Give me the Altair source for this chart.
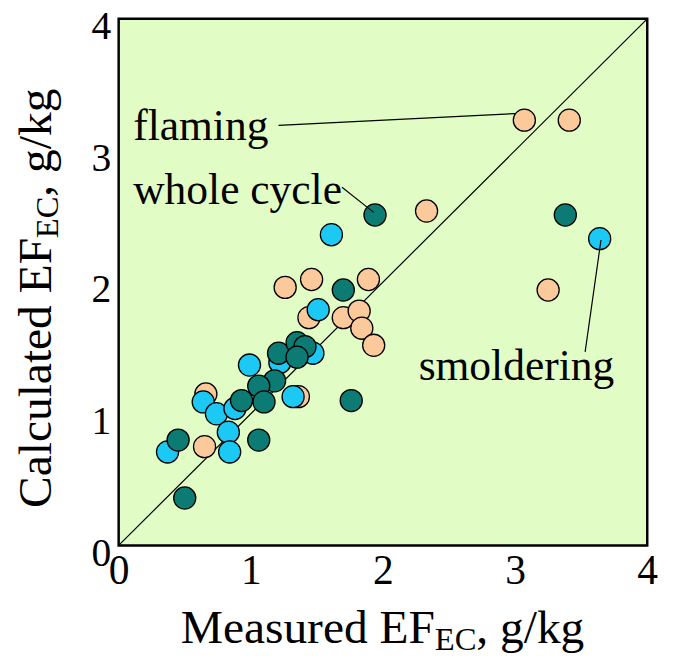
import altair as alt
import pandas as pd

# ---- data ----
flaming_x = [3.07, 3.41, 2.33, 3.25, 1.26, 1.46, 1.89, 1.44, 1.70, 1.82, 1.84, 1.93, 0.66, 1.36, 0.65]
flaming_y = [3.23, 3.23, 2.54, 1.94, 1.96, 2.02, 2.02, 1.73, 1.73, 1.78, 1.65, 1.52, 1.15, 1.13, 0.75]
smold_x = [1.61, 3.64, 1.51, 0.99, 1.22, 1.47, 1.32, 0.64, 0.74, 0.88, 0.83, 0.84, 0.37]
smold_y = [2.36, 2.33, 1.79, 1.37, 1.39, 1.46, 1.13, 1.09, 1.00, 1.04, 0.86, 0.71, 0.71]
whole_x = [1.94, 3.38, 1.70, 1.21, 1.35, 1.41, 1.35, 1.18, 1.06, 0.93, 1.10, 1.76, 0.45, 1.06, 0.50]
whole_y = [2.51, 2.51, 1.94, 1.46, 1.54, 1.51, 1.43, 1.25, 1.21, 1.10, 1.09, 1.10, 0.80, 0.80, 0.36]

groups = ["flaming", "smoldering", "whole cycle"]
group_colors = ["#FCC99B", "#1CC8F4", "#0B7B73"]
ticks = [0, 1, 2, 3, 4]

# annotation labels and leader lines (data coordinates)
label_text = ["flaming", "whole cycle", "smoldering"]
label_x = [0.11, 0.11, 2.27]
label_y = [3.08, 2.59, 1.26]
lead_x1 = [1.21, 1.69, 3.53]
lead_y1 = [3.19, 2.72, 1.47]
lead_x2 = [3.0, 1.93, 3.65]
lead_y2 = [3.28, 2.53, 2.32]

FONT = "Liberation Serif"

rows = []
for g, xs, ys in [("flaming", flaming_x, flaming_y),
                  ("smoldering", smold_x, smold_y),
                  ("whole cycle", whole_x, whole_y)]:
    for a, b in zip(xs, ys):
        rows.append({"group": g, "measured": a, "calculated": b,
                     "order": groups.index(g)})
pts = pd.DataFrame(rows)

xs = alt.Scale(domain=[0, 4], nice=False, zero=False)
ys = alt.Scale(domain=[0, 4], nice=False, zero=False)

x_axis = alt.Axis(values=ticks, format="d", title=None, grid=False, ticks=False,
                  domain=False, labelFont=FONT, labelFontSize=42, labelColor="black",
                  labelPadding=6, labelFlush=False)
y_axis = alt.Axis(values=ticks, format="d", title=None, grid=False, ticks=False,
                  domain=False, labelFont=FONT, labelFontSize=40, labelColor="black",
                  labelPadding=8, labelFlush=False, labelOffset=8)

diag = alt.Chart(pd.DataFrame({"a": [0], "b": [0], "a2": [4], "b2": [4]})).mark_rule(
    color="black", strokeWidth=1.2
).encode(
    x=alt.X("a:Q", scale=xs, axis=x_axis),
    y=alt.Y("b:Q", scale=ys, axis=y_axis),
    x2="a2:Q", y2="b2:Q",
)

points = alt.Chart(pts).mark_circle(size=500, opacity=1, stroke="black",
                                    strokeWidth=1.3).encode(
    x=alt.X("measured:Q", scale=xs),
    y=alt.Y("calculated:Q", scale=ys),
    color=alt.Color("group:N", scale=alt.Scale(domain=groups, range=group_colors),
                    legend=None),
    order=alt.Order("order:Q"),
)

leaders = alt.Chart(pd.DataFrame({"x1": lead_x1, "y1": lead_y1,
                                  "x2": lead_x2, "y2": lead_y2})).mark_rule(
    color="black", strokeWidth=1.2
).encode(
    x=alt.X("x1:Q", scale=xs), y=alt.Y("y1:Q", scale=ys), x2="x2:Q", y2="y2:Q"
)

labels = alt.Chart(pd.DataFrame({"t": label_text, "x": label_x, "y": label_y})).mark_text(
    font=FONT, fontSize=44, align="left", baseline="alphabetic", color="black"
).encode(
    x=alt.X("x:Q", scale=xs), y=alt.Y("y:Q", scale=ys), text="t:N"
)

def txt(s, x, y, size, angle=0):
    return alt.Chart(pd.DataFrame({"t": [s]})).mark_text(
        font=FONT, fontSize=size, align="left", baseline="alphabetic",
        color="black", angle=angle
    ).encode(x=alt.value(x), y=alt.value(y), text="t:N")

# x-axis title: Measured EF_EC, g/kg
xt1 = alt.Chart(pd.DataFrame({"t": ["Measured EF"]})).mark_text(
    font=FONT, fontSize=48, align="right", baseline="alphabetic", color="black"
).encode(x=alt.value(320), y=alt.value(632), text="t:N")
xt2 = txt("EC", 320, 639, 33)
xt3 = txt(", g/kg", 362, 632, 48)

# y-axis title (rotated)
yt1 = txt("Calculated EF", -68, 495, 48, angle=270)
yt2 = txt("EC", -61, 495 - 273, 33, angle=270)
yt3 = txt(", g/kg", -68, 495 - 273 - 42, 48, angle=270)

chart = alt.layer(
    diag, points, leaders, labels, xt1, xt2, xt3, yt1, yt2, yt3
).properties(
    width=535, height=533,
    autosize=alt.AutoSizeParams(type="none"),
    padding={"left": 112, "top": 7, "right": 20, "bottom": 110},
    background="white",
).configure_view(
    fill="#E1FCC5", stroke="black", strokeWidth=2.5
)

chart.save("out.html", embed_options={"renderer": "svg", "actions": False})
